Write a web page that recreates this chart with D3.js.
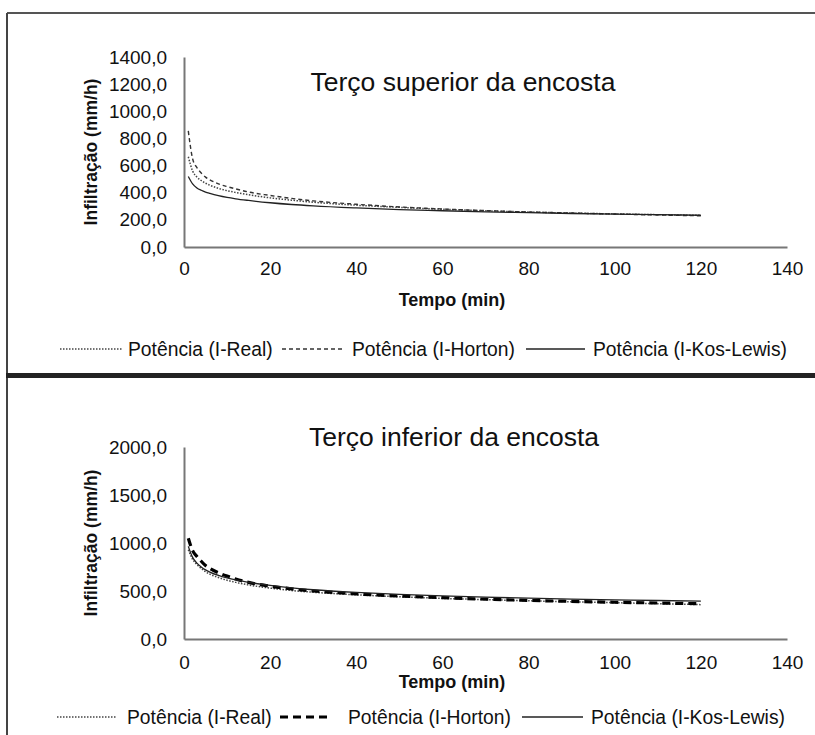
<!DOCTYPE html>
<html>
<head>
<meta charset="utf-8">
<script src="https://cdn.jsdelivr.net/npm/d3@7"></script>
<style>
  body { margin: 0; background: #fff; }
  text { font-family: "Liberation Sans", Arial, sans-serif; fill: #111; }
</style>
</head>
<body>
<div id="container"></div>
<script>
// time values (min)
const times = [1, 2, 3, 4, 5, 6, 8, 10, 12, 15, 20, 25, 30, 40, 50, 60, 70, 80, 90, 100, 110, 120];

// upper slope
const topReal = [665, 560, 515, 490, 470, 455, 432, 415, 402, 385, 362, 345, 330, 308, 292, 278, 267, 258, 250, 244, 238, 233];
const topHorton = [855, 650, 585, 545, 515, 495, 465, 445, 428, 405, 380, 358, 340, 315, 295, 280, 268, 258, 250, 243, 236, 230];
const topKos = [520, 465, 435, 418, 405, 395, 378, 365, 355, 343, 326, 313, 303, 288, 276, 267, 259, 253, 247, 242, 238, 234];

// lower slope
const botReal = [930, 830, 775, 735, 700, 675, 640, 612, 590, 563, 530, 505, 487, 460, 440, 423, 410, 398, 388, 378, 368, 358];
const botHorton = [1050, 920, 860, 810, 765, 735, 690, 655, 625, 590, 550, 522, 500, 470, 448, 430, 415, 402, 392, 383, 375, 368];
const botKos = [965, 850, 790, 750, 720, 697, 662, 636, 615, 590, 558, 533, 513, 485, 465, 449, 436, 425, 416, 408, 401, 395];

const xTicks = [0, 20, 40, 60, 80, 100, 120, 140];
const topYTicks = [0, 200, 400, 600, 800, 1000, 1200, 1400];
const botYTicks = [0, 500, 1000, 1500, 2000];
const seriesNames = ['Potência (I-Real)', 'Potência (I-Horton)', 'Potência (I-Kos-Lewis)'];

const width = 815, height = 735;
const svg = d3.select('#container').append('svg')
  .attr('width', width)
  .attr('height', height);

// frame
svg.append('line').attr('x1', 7).attr('y1', 13).attr('x2', width).attr('y2', 13)
  .attr('stroke', '#555').attr('stroke-width', 2);
svg.append('line').attr('x1', 7).attr('y1', 13).attr('x2', 7).attr('y2', height)
  .attr('stroke', '#444').attr('stroke-width', 2);
svg.append('rect').attr('x', 6).attr('y', 373).attr('width', width).attr('height', 5)
  .attr('fill', '#222');

const fmt = d3.formatLocale({decimal: ',', thousands: '.', grouping: [3], currency: ['', '']}).format('.1f');

const panels = [
  {
    title: 'Terço superior da encosta', titleX: 463, titleY: 91,
    yTicks: topYTicks, yMax: 1400, yRange: [247, 57],
    xPad: 15, xLabelY: 306, yLabelY: 152, legendY: 349,
    series: [topReal, topHorton, topKos],
    styles: [
      {dash: '1.5,1.5', w: 1.5, c: '#444'},
      {dash: '4,3', w: 1.4, c: '#333'},
      {dash: null, w: 1.3, c: '#222'}
    ],
    legendX: [[60, 122, 128], [282, 345, 352], [526, 585, 593]]
  },
  {
    title: 'Terço inferior da encosta', titleX: 454, titleY: 446,
    yTicks: botYTicks, yMax: 2000, yRange: [639, 447],
    xPad: 17, xLabelY: 688, yLabelY: 543, legendY: 717,
    series: [botReal, botHorton, botKos],
    styles: [
      {dash: '1.5,1.5', w: 1.5, c: '#444'},
      {dash: '8,5', w: 3.2, c: '#000'},
      {dash: null, w: 1.3, c: '#222'}
    ],
    legendX: [[57, 117, 127], [280, 332, 348], [522, 583, 591]]
  }
];

const xScale = d3.scaleLinear().domain([0, 140]).range([184, 787]);

panels.forEach(function(p) {
  const yScale = d3.scaleLinear().domain([0, p.yMax]).range(p.yRange);
  const g = svg.append('g');

  const yAxis = d3.axisLeft(yScale).tickValues(p.yTicks).tickSize(0).tickPadding(17).tickFormat(fmt);
  g.append('g')
    .attr('transform', 'translate(' + xScale(0) + ',0)')
    .call(yAxis)
    .call(a => a.select('.domain').attr('stroke', '#777').attr('stroke-width', 2))
    .selectAll('text').style('font-size', '19px').attr('fill', '#111');

  const xAxis = d3.axisBottom(xScale).tickValues(xTicks).tickSize(0).tickPadding(p.xPad);
  g.append('g')
    .attr('transform', 'translate(0,' + yScale(0) + ')')
    .call(xAxis)
    .call(a => a.select('.domain').attr('stroke', '#777').attr('stroke-width', 2))
    .selectAll('text').style('font-size', '19px').attr('fill', '#111');

  g.append('text')
    .attr('x', p.titleX).attr('y', p.titleY)
    .attr('text-anchor', 'middle')
    .style('font-size', '26.5px')
    .text(p.title);

  g.append('text')
    .attr('x', 452).attr('y', p.xLabelY)
    .attr('text-anchor', 'middle')
    .style('font-size', '18px').style('font-weight', 'bold')
    .text('Tempo (min)');

  g.append('text')
    .attr('transform', 'translate(97,' + p.yLabelY + ') rotate(-90)')
    .attr('text-anchor', 'middle')
    .style('font-size', '17.5px').style('font-weight', 'bold')
    .text('Infiltração  (mm/h)');

  const line = d3.line()
    .x((d, i) => xScale(times[i]))
    .y(d => yScale(d))
    .curve(d3.curveMonotoneX);

  p.series.forEach(function(s, k) {
    const st = p.styles[k];
    g.append('path')
      .datum(s)
      .attr('d', line)
      .attr('fill', 'none')
      .attr('stroke', st.c)
      .attr('stroke-width', st.w)
      .attr('stroke-dasharray', st.dash);
  });

  // legend
  seriesNames.forEach(function(name, k) {
    const st = p.styles[k];
    const lx = p.legendX[k];
    g.append('line')
      .attr('x1', lx[0]).attr('x2', lx[1])
      .attr('y1', p.legendY).attr('y2', p.legendY)
      .attr('stroke', st.c)
      .attr('stroke-width', st.w)
      .attr('stroke-dasharray', st.dash);
    g.append('text')
      .attr('x', lx[2]).attr('y', p.legendY)
      .attr('dy', '0.35em')
      .style('font-size', '19.3px')
      .text(name);
  });
});
</script>
</body>
</html>
